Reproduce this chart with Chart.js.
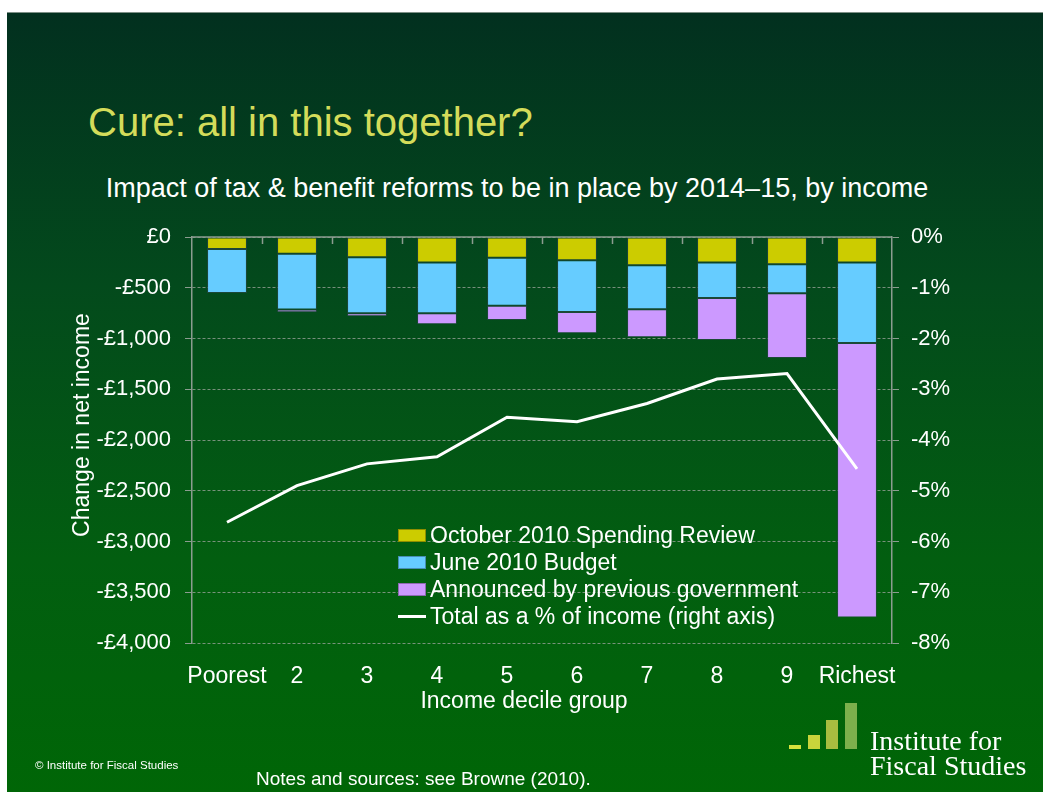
<!DOCTYPE html>
<html>
<head>
<meta charset="utf-8">
<script src="https://cdn.jsdelivr.net/npm/chart.js@4.4.1/dist/chart.umd.min.js"></script>
<style>
  body { margin: 0; background: #fff; font-family: "Liberation Sans", Arial, sans-serif; }
  #slide {
    position: absolute; left: 7px; top: 12px; width: 1036px; height: 780px;
    background: linear-gradient(to bottom, #02301f 0%, #034a1c 35%, #025e10 70%, #006606 100%);
    border-top: 1px solid #7d8f86;
  }
  #chart { position: absolute; left: 0; top: 0; }
  .txt { position: absolute; white-space: nowrap; color: #fff; }
  #title { left: 88px; top: 100px; font-size: 40px; color: #d4dc5a; }
  #subtitle { left: 0; width: 1034px; text-align: center; top: 173px; font-size: 27px; }
  #xTitle { left: 324px; width: 400px; text-align: center; top: 686px; font-size: 23px; line-height: 28px; }
  #yTitle { left: -119px; width: 400px; text-align: center; top: 411px; font-size: 23px; line-height: 28px; transform: rotate(-90deg); }
  #legend { position: absolute; left: 398px; top: 522px; color: #fff; font-size: 23px; }
  #legend .row { height: 27px; display: flex; align-items: center; }
  #legend .box { width: 26px; height: 11px; border: 1px solid rgba(0,0,0,0.3); margin-right: 4px; }
  #legend .line { width: 28px; height: 3px; background: #fff; margin-right: 4px; }
  .logo-bar { position: absolute; width: 12px; }
  #logoText { left: 870px; top: 728px; font-family: "Liberation Serif", "DejaVu Serif", serif; font-size: 28px; line-height: 25px; }
  #copy { left: 35px; top: 759px; font-size: 11.5px; }
  #notes { left: 256px; top: 768px; font-size: 19px; }
</style>
</head>
<body>
<div id="slide"></div>
<div class="txt" id="title">Cure: all in this together?</div>
<div class="txt" id="subtitle">Impact of tax &amp; benefit reforms to be in place by 2014–15, by income</div>
<canvas id="chart" width="1043" height="792"></canvas>
<div class="txt" id="xTitle">Income decile group</div>
<div class="txt" id="yTitle">Change in net income</div>
<div id="legend"></div>
<div class="logo-bar" style="left:789px; top:745px; height:4px; background:#d6e23c;"></div>
<div class="logo-bar" style="left:808px; top:735px; height:14px; background:#c8d43b;"></div>
<div class="logo-bar" style="left:826px; top:720px; height:29px; background:#a8bd40;"></div>
<div class="logo-bar" style="left:845px; top:703px; height:46px; background:#7cb04c;"></div>
<div class="txt" id="logoText">Institute for<br>Fiscal Studies</div>
<div class="txt" id="copy">© Institute for Fiscal Studies</div>
<div class="txt" id="notes">Notes and sources: see Browne (2010).</div>

<script>
const categories = ['Poorest', '2', '3', '4', '5', '6', '7', '8', '9', 'Richest'];
const spendingReview = [-118, -165, -200, -250, -204, -230, -279, -250, -269, -250];
const june2010Budget = [-433, -549, -552, -502, -473, -509, -433, -351, -286, -795];
const previousGovernment = [0, -27, -30, -108, -141, -210, -276, -414, -637, -2703];
const totalPctIncome = [-5.62, -4.90, -4.47, -4.33, -3.55, -3.64, -3.28, -2.80, -2.69, -4.57];

const seriesNames = [
  'October 2010 Spending Review',
  'June 2010 Budget',
  'Announced by previous government',
  'Total as a % of income (right axis)'
];
const seriesColors = ['#cccc00', '#66ccff', '#cc99ff', '#ffffff'];

const axisColor = '#8c9c90';
const gridColor = 'rgba(150,160,150,0.8)';
const labelFont = { family: '"Liberation Sans", Arial, sans-serif', size: 23 };
const tickFont = { family: '"Liberation Sans", Arial, sans-serif', size: 22 };

// x axis sits at the top (value 0), with tick marks pointing down between groups
const topAxisPlugin = {
  id: 'topAxis',
  afterDraw(chart) {
    const { ctx, chartArea } = chart;
    const x = chart.scales.x;
    const y0 = chart.scales.y.getPixelForValue(0);
    ctx.save();
    ctx.strokeStyle = axisColor;
    ctx.lineWidth = 1.5;
    ctx.beginPath();
    ctx.moveTo(chartArea.left, y0);
    ctx.lineTo(chartArea.right, y0);
    const step = x.getPixelForValue(1) - x.getPixelForValue(0);
    for (let i = 1; i < categories.length; i++) {
      const px = Math.round(x.getPixelForValue(i) - step / 2) + 0.5;
      ctx.moveTo(px, y0);
      ctx.lineTo(px, y0 + 7);
    }
    ctx.stroke();
    ctx.restore();
  }
};

const barBorder = 'rgba(50,70,80,0.55)';

new Chart(document.getElementById('chart'), {
  type: 'bar',
  data: {
    labels: categories,
    datasets: [
      { label: seriesNames[0], data: spendingReview, backgroundColor: seriesColors[0], borderColor: barBorder, borderWidth: 1, borderSkipped: false, yAxisID: 'y', order: 1 },
      { label: seriesNames[1], data: june2010Budget, backgroundColor: seriesColors[1], borderColor: barBorder, borderWidth: 1, borderSkipped: false, yAxisID: 'y', order: 1 },
      { label: seriesNames[2], data: previousGovernment, backgroundColor: seriesColors[2], borderColor: barBorder, borderWidth: 1, borderSkipped: false, yAxisID: 'y', order: 1 },
      { type: 'line', label: seriesNames[3], data: totalPctIncome, borderColor: seriesColors[3], borderWidth: 3, pointRadius: 0, tension: 0, yAxisID: 'y2', order: 0 }
    ]
  },
  options: {
    responsive: false,
    animation: false,
    barPercentage: 0.57,
    categoryPercentage: 1.0,
    layout: { padding: { top: 237, left: 67, right: 40, bottom: 79 } },
    plugins: { legend: { display: false }, tooltip: { enabled: false } },
    scales: {
      x: {
        stacked: true,
        grid: { display: false, drawTicks: false },
        border: { display: false },
        ticks: { color: '#ffffff', font: labelFont, padding: 20, maxRotation: 0, autoSkip: false },
        afterFit(scale) { scale.height = 70; }
      },
      y: {
        stacked: true,
        position: 'left',
        min: -4000,
        max: 0,
        ticks: {
          stepSize: 500,
          color: '#ffffff',
          font: tickFont,
          padding: 14,
          callback: v => v === 0 ? '£0' : '-£' + Math.abs(v).toLocaleString('en-GB')
        },
        grid: { color: gridColor, tickLength: 7, tickColor: axisColor, tickBorderDash: [], lineWidth: 1 },
        border: { display: true, color: axisColor, width: 1.5, dash: [3, 2] },
        afterFit(scale) { scale.width = 192 - 67; }
      },
      y2: {
        position: 'right',
        min: -8,
        max: 0,
        ticks: { stepSize: 1, color: '#ffffff', font: tickFont, padding: 12, callback: v => v + '%' },
        grid: { drawOnChartArea: false, tickLength: 7, color: axisColor },
        border: { display: true, color: axisColor, width: 1.5 },
        afterFit(scale) { scale.width = 111; }
      }
    }
  },
  plugins: [topAxisPlugin]
});

// legend drawn over the plot area, as in the original slide
const legendEl = document.getElementById('legend');
seriesNames.forEach((name, i) => {
  const row = document.createElement('div');
  row.className = 'row';
  const mark = document.createElement('div');
  if (i < 3) {
    mark.className = 'box';
    mark.style.background = seriesColors[i];
  } else {
    mark.className = 'line';
  }
  const label = document.createElement('span');
  label.textContent = name;
  row.appendChild(mark);
  row.appendChild(label);
  legendEl.appendChild(row);
});
</script>
</body>
</html>
